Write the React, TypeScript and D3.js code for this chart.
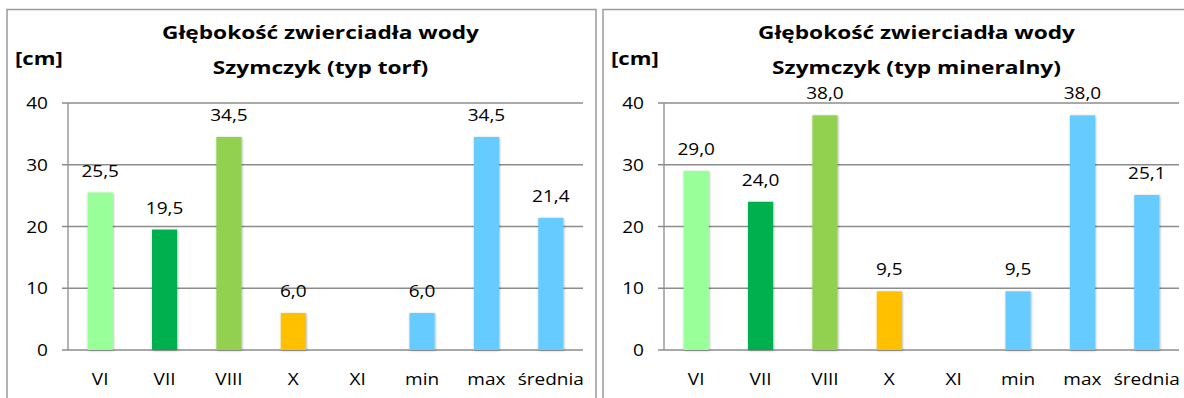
import React, { useEffect, useRef } from 'react';
import * as d3 from 'd3';

const categories = ['VI', 'VII', 'VIII', 'X', 'XI', 'min', 'max', 'średnia'];
const torfValues: (number | null)[] = [25.5, 19.5, 34.5, 6.0, null, 6.0, 34.5, 21.4];
const mineralValues: (number | null)[] = [29.0, 24.0, 38.0, 9.5, null, 9.5, 38.0, 25.1];
const yTicks = [0, 10, 20, 30, 40];
const titleLine1 = 'Głębokość zwierciadła wody';
const torfSubtitle = 'Szymczyk (typ torf)';
const mineralSubtitle = 'Szymczyk (typ mineralny)';
const unitLabel = '[cm]';

const barColors = ['#99FF99', '#00B050', '#92D050', '#FFC000', '#66CCFF', '#66CCFF', '#66CCFF', '#66CCFF'];

const FONT = '"Open Sans", sans-serif';
const GRID = '#8c8c8c';

interface PanelSpec {
  frameX: number;
  subtitle: string;
  values: (number | null)[];
}

const panels: PanelSpec[] = [
  { frameX: 7, subtitle: torfSubtitle, values: torfValues },
  { frameX: 603, subtitle: mineralSubtitle, values: mineralValues },
];

type G = d3.Selection<SVGGElement, unknown, null, undefined>;

// the original chart is stretched sideways, so text gets a horizontal scale
function label(
  g: G,
  x: number,
  y: number,
  txt: string,
  opts: { anchor?: string; bold?: boolean; size?: number; sx?: number } = {}
) {
  const { anchor = 'start', bold = false, size = 17, sx = 1.12 } = opts;
  g.append('text')
    .attr('transform', `translate(${x},${y}) scale(${sx},1)`)
    .attr('text-anchor', anchor)
    .attr('font-family', FONT)
    .attr('font-weight', bold ? 'bold' : 'normal')
    .attr('font-size', `${size}px`)
    .attr('fill', '#000')
    .text(txt);
}

export default function App() {
  const svgRef = useRef<SVGSVGElement>(null);

  useEffect(() => {
    if (!svgRef.current) return;
    const svg = d3.select(svgRef.current);
    svg.selectAll('*').remove();

    // soft shadow like the spreadsheet bars
    const defs = svg.append('defs');
    const f = defs
      .append('filter')
      .attr('id', 'barShadow')
      .attr('x', '-30%')
      .attr('y', '-10%')
      .attr('width', '160%')
      .attr('height', '120%');
    f.append('feDropShadow')
      .attr('dx', 0.6)
      .attr('dy', 0.6)
      .attr('stdDeviation', 1.2)
      .attr('flood-color', '#000')
      .attr('flood-opacity', 0.35);

    const frameWidth = 593;

    panels.forEach((p) => {
      const g = svg.append('g') as G;
      const left = p.frameX + 61;
      const right = left + 515;
      const top = 103;
      const bottom = 350;

      // Panel frame
      g.append('rect')
        .attr('x', p.frameX)
        .attr('y', 9.5)
        .attr('width', frameWidth - 4)
        .attr('height', 420)
        .attr('fill', '#fff')
        .attr('stroke', '#9a9a9a')
        .attr('stroke-width', 1.5);

      const x = d3
        .scaleBand<string>()
        .domain(categories)
        .range([left, right])
        .paddingInner(0.61)
        .paddingOuter(0.305);

      const y = d3.scaleLinear().domain([0, 40]).range([bottom, top]);

      // Gridlines + ticks
      yTicks.forEach((t) => {
        g.append('line')
          .attr('x1', left - 6)
          .attr('x2', right)
          .attr('y1', y(t))
          .attr('y2', y(t))
          .attr('stroke', GRID)
          .attr('stroke-width', 1.3);
        label(g, left - 20, y(t) + 6, String(t), { anchor: 'end' });
      });

      // Y axis line
      g.append('line')
        .attr('x1', left)
        .attr('x2', left)
        .attr('y1', top)
        .attr('y2', bottom)
        .attr('stroke', GRID)
        .attr('stroke-width', 1.3);

      // Bars + value labels
      categories.forEach((c, i) => {
        const v = p.values[i];
        if (v === null) return;
        const bx = x(c) || 0;
        g.append('rect')
          .attr('x', bx)
          .attr('y', y(v))
          .attr('width', x.bandwidth())
          .attr('height', y(0) - y(v))
          .attr('fill', barColors[i])
          .attr('filter', 'url(#barShadow)');
        label(g, bx + x.bandwidth() / 2, y(v) - 16, v.toFixed(1).replace('.', ','), {
          anchor: 'middle',
        });
      });

      // Category labels
      categories.forEach((c) => {
        label(g, (x(c) || 0) + x.bandwidth() / 2, 385, c, { anchor: 'middle' });
      });

      // Titles
      const cx = (left + right) / 2 - 5;
      label(g, cx, 39, titleLine1, { anchor: 'middle', bold: true, size: 18, sx: 1.26 });
      label(g, cx, 74, p.subtitle, { anchor: 'middle', bold: true, size: 18, sx: 1.26 });
      label(g, p.frameX + 8, 65, unitLabel, { bold: true, size: 18, sx: 1.23 });
    });
  }, []);

  return (
    <svg
      ref={svgRef}
      width={1184}
      height={398}
      style={{ position: 'absolute', left: 0, top: 0, background: '#fff' }}
    />
  );
}
